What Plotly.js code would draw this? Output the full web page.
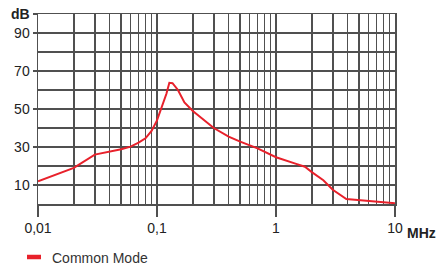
<!DOCTYPE html>
<html><head><meta charset="utf-8">
<script src="https://cdn.plot.ly/plotly-3.0.1.min.js"></script>
<style>html,body{margin:0;padding:0;background:#fff}#chart{width:437px;height:266px}</style>
</head><body><div id="chart"></div>
<script>
const seriesName = "Common Mode";
const freqMHz = [0.01, 0.02, 0.03, 0.04, 0.05, 0.06, 0.07, 0.08, 0.09, 0.1, 0.11, 0.12, 0.127, 0.135, 0.15, 0.17, 0.2, 0.3, 0.4, 0.5, 0.7, 1, 1.5, 1.75, 2, 2.5, 3, 3.9, 10];
const levelDb = [12, 19, 26, 27.5, 28.8, 30.2, 32.3, 34.6, 38.5, 44, 51, 58, 63.8, 63.6, 60, 53.5, 49, 40, 35.5, 32.8, 29.3, 24.6, 21, 19.6, 16.8, 12.5, 7.5, 2.6, 0.4];
const xTickVals = [0.01, 0.1, 1, 10];
const xTickText = ["0,01", "0,1", "1", "10"];
const yTickVals = [10, 30, 50, 70, 90, 100];
const yTickText = ["10", "30", "50", "70", "90", "<b>dB</b>"];
const yGridVals = [0, 10, 20, 30, 40, 50, 60, 70, 80, 90, 100];
const xMinorVals = [];
[0.01, 0.1, 1].forEach(d => { for (let k = 2; k <= 9; k++) xMinorVals.push(+(d * k).toPrecision(3)); });

const gridCol = "#505050";
const red = "#e8212b";
const font = {family: "Liberation Sans, Arial, sans-serif", size: 14, color: "#222"};
const W = 357, H = 190; // plot area size in px (for paper placement of legend)

Plotly.newPlot("chart", [{
  x: freqMHz, y: levelDb, type: "scatter", mode: "lines", name: seriesName,
  line: {color: red, width: 2}, showlegend: false
}], {
  width: 437, height: 266,
  margin: {l: 38, r: 42, t: 14, b: 62},
  paper_bgcolor: "#fff", plot_bgcolor: "#fff",
  font: font,
  xaxis: {
    type: "log", range: [-2, 1], tickvals: xTickVals, ticktext: xTickText,
    ticks: "outside", ticklen: 11, tickwidth: 1.5, tickcolor: gridCol,
    showgrid: true, gridcolor: gridCol, gridwidth: 1.5,
    minor: {tickvals: xMinorVals, showgrid: true, gridcolor: gridCol, gridwidth: 1.5, ticks: ""},
    zeroline: false, showline: true, linecolor: gridCol, linewidth: 1.5, mirror: true,
    tickfont: font
  },
  yaxis: {
    range: [0, 100], tickvals: yTickVals, ticktext: yTickText,
    ticks: "outside", ticklen: 4, tickwidth: 1.5, tickcolor: gridCol,
    showgrid: true, gridcolor: gridCol, gridwidth: 1.5,
    minor: {tickvals: yGridVals, showgrid: true, gridcolor: gridCol, gridwidth: 1.5, ticks: ""},
    zeroline: false, showline: true, linecolor: gridCol, linewidth: 1.5, mirror: true,
    tickfont: font
  },
  shapes: [{type: "line", xref: "paper", yref: "paper", x0: (27 - 38) / W, x1: (41 - 38) / W, y0: (204 - 257) / H, y1: (204 - 257) / H, line: {color: red, width: 4.5}}],
  annotations: [
    {xref: "paper", yref: "paper", x: 1, y: 0, xanchor: "left", yanchor: "top", xshift: 10, yshift: -19, text: "<b>MHz</b>", showarrow: false, font: font},
    {xref: "paper", yref: "paper", x: (50 - 38) / W, y: (204 - 258) / H, xanchor: "left", yanchor: "middle", text: seriesName, showarrow: false, font: {family: font.family, size: 14, color: "#333"}}
  ]
}, {displayModeBar: false, staticPlot: true});
</script></body></html>
